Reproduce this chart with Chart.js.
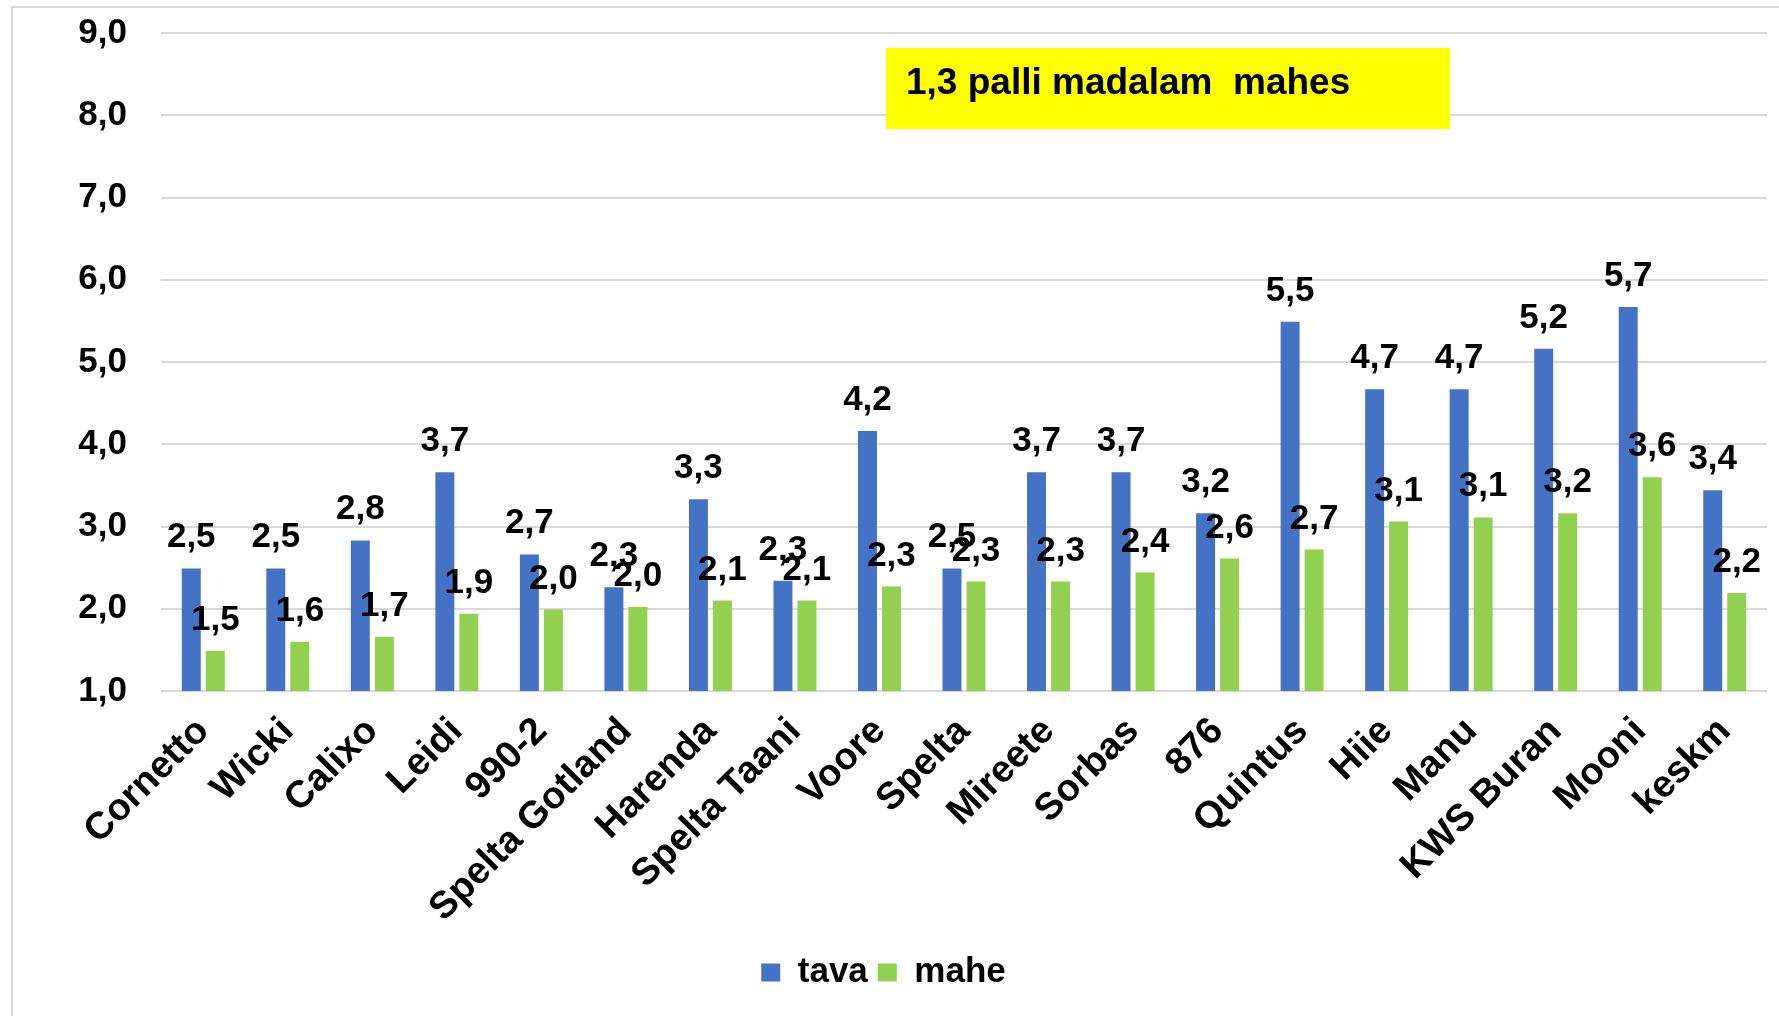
<!DOCTYPE html>
<html>
<head>
<meta charset="utf-8">
<script src="https://cdn.jsdelivr.net/npm/chart.js@4.4.1/dist/chart.umd.min.js"></script>
<style>
  html, body { margin: 0; padding: 0; background: #fff; }
  #wrap { position: relative; width: 1779px; height: 1016px; }
</style>
</head>
<body>
<div id="wrap"><canvas id="myChart"></canvas></div>
<script>
const categories = ['Cornetto', 'Wicki', 'Calixo', 'Leidi', '990-2', 'Spelta Gotland', 'Harenda', 'Spelta Taani',
  'Voore', 'Spelta', 'Mireete', 'Sorbas', '876', 'Quintus', 'Hiie', 'Manu', 'KWS Buran', 'Mooni', 'keskm'];
const tava = [2.49, 2.49, 2.83, 3.66, 2.66, 2.26, 3.33, 2.34, 4.16, 2.49, 3.66, 3.66, 3.16, 5.49, 4.67, 4.67, 5.16, 5.67, 3.44];
const mahe = [1.49, 1.60, 1.66, 1.94, 1.99, 2.02, 2.10, 2.10, 2.27, 2.33, 2.33, 2.44, 2.61, 2.72, 3.06, 3.11, 3.16, 3.60, 2.19];
const yTickLabels = ['1,0', '2,0', '3,0', '4,0', '5,0', '6,0', '7,0', '8,0', '9,0'];
const noteText = '1,3 palli madalam  mahes';

const fontFamily = "'Liberation Sans', Arial, sans-serif";
Chart.defaults.font.family = fontFamily;
Chart.defaults.color = '#000';

function fmt(v) {
  return v.toFixed(1).replace('.', ',');
}

// light frame around the whole chart
const frame = {
  id: 'frame',
  beforeDraw(chart) {
    const c = chart.ctx;
    c.save();
    c.strokeStyle = '#d9d9d9';
    c.lineWidth = 2;
    c.strokeRect(12, 7, chart.width + 20, chart.height + 20);
    c.restore();
  }
};

// value labels above the bars
const valueLabels = {
  id: 'valueLabels',
  afterDatasetsDraw(chart) {
    const c = chart.ctx;
    c.save();
    c.font = 'bold 35px ' + fontFamily;
    c.fillStyle = '#000';
    c.textAlign = 'center';
    c.textBaseline = 'alphabetic';
    chart.data.datasets.forEach((ds, i) => {
      chart.getDatasetMeta(i).data.forEach((bar, j) => {
        c.fillText(fmt(ds.data[j]), bar.x, bar.y - 21);
      });
    });
    c.restore();
  }
};

// yellow note box
const noteBox = {
  id: 'noteBox',
  afterDraw(chart) {
    const c = chart.ctx;
    const a = chart.chartArea;
    const x = a.left + 725, y = a.top + 15;
    c.save();
    c.fillStyle = '#ffff00';
    c.fillRect(x, y, 564, 81);
    c.fillStyle = '#000';
    c.font = 'bold 37px ' + fontFamily;
    c.textAlign = 'left';
    c.textBaseline = 'alphabetic';
    c.fillText(noteText, x + 20, y + 46);
    c.restore();
  }
};

const ctx = document.getElementById('myChart');

new Chart(ctx, {
  type: 'bar',
  data: {
    labels: categories,
    datasets: [{
      label: 'tava',
      data: tava,
      backgroundColor: '#4472C4',
      categoryPercentage: 0.568,
      barPercentage: 0.79
    }, {
      label: 'mahe',
      data: mahe,
      backgroundColor: '#92D050',
      categoryPercentage: 0.568,
      barPercentage: 0.79
    }]
  },
  options: {
    responsive: true,
    maintainAspectRatio: false,
    animation: false,
    layout: { padding: { top: 33, right: 12, bottom: 16, left: 0 } },
    scales: {
      x: {
        offset: true,
        grid: { display: false },
        border: { display: false },
        ticks: {
          autoSkip: false,
          maxRotation: 45,
          minRotation: 45,
          padding: 10,
          color: '#000',
          font: { size: 38, weight: 'bold' }
        },
        afterFit(scale) { scale.height = 254; }
      },
      y: {
        min: 1,
        max: 9,
        // invisible tick marks keep the labels away from the plot
        grid: { color: '#d9d9d9', lineWidth: 2, tickLength: 34, tickColor: 'rgba(0,0,0,0)' },
        border: { display: false },
        ticks: {
          stepSize: 1,
          padding: 0,
          color: '#000',
          font: { size: 35, weight: 'bold' },
          callback: function(value) {
            return yTickLabels[Math.round(value) - 1];
          }
        },
        afterFit(scale) { scale.width = 161; }
      }
    },
    plugins: {
      legend: {
        position: 'bottom',
        labels: {
          boxWidth: 19,
          boxHeight: 18,
          padding: 10,
          color: '#000',
          font: { size: 35, weight: 'bold' }
        }
      },
      tooltip: { enabled: false }
    }
  },
  plugins: [frame, valueLabels, noteBox]
});
</script>
</body>
</html>
